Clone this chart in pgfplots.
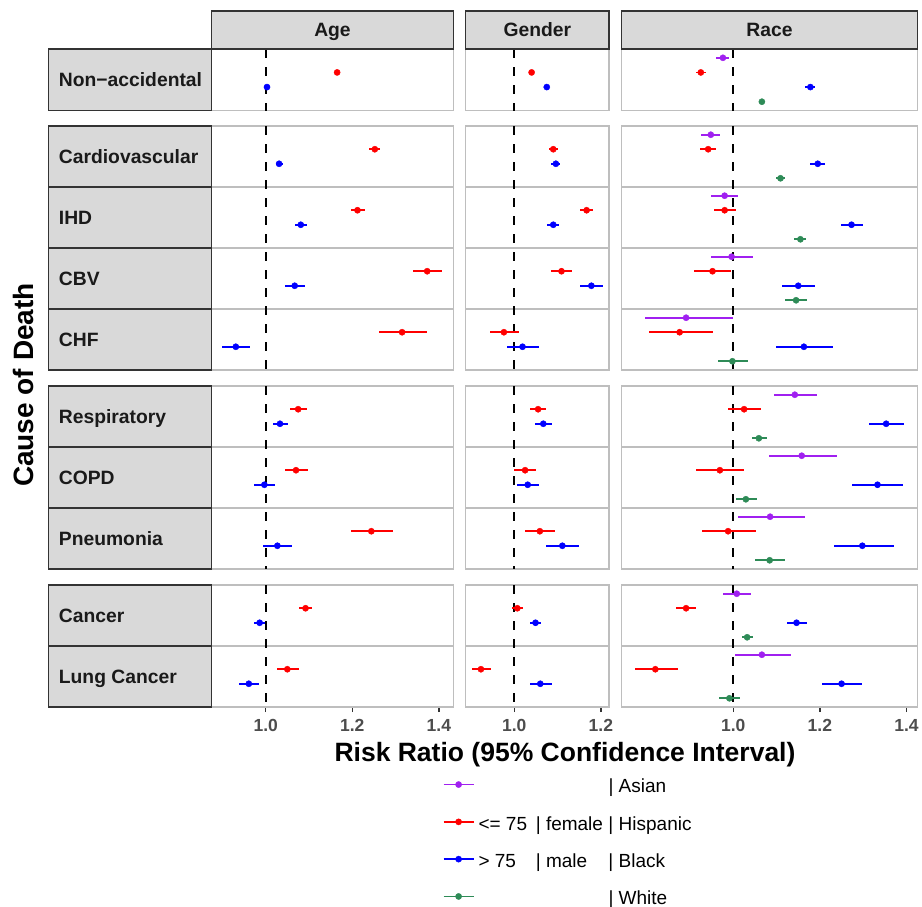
\documentclass[border=0pt]{standalone}
\usepackage{fontspec}
\setmainfont{Liberation Sans}
\usepackage{pgfplots}
\usepackage{pgfplotstable}
\pgfplotsset{compat=1.18}
\definecolor{cpurple}{RGB}{160,32,240}
\definecolor{cred}{RGB}{255,0,0}
\definecolor{cblue}{RGB}{0,0,255}
\definecolor{cgreen}{RGB}{46,139,87}
\definecolor{panelgrey}{RGB}{190,190,190}
\definecolor{stripfill}{RGB}{217,217,217}
\definecolor{stripdraw}{RGB}{51,51,51}
\definecolor{textdark}{RGB}{26,26,26}
\definecolor{tickgrey}{RGB}{77,77,77}

% rows: 1 Non-accidental, 2 Cardiovascular, 3 IHD, 4 CBV, 5 CHF,
% 6 Respiratory, 7 COPD, 8 Pneumonia, 9 Cancer, 10 Lung Cancer
\pgfplotstableread{
row est lo hi
1 1.165 1.162 1.168
2 1.252 1.239 1.265
3 1.212 1.196 1.229
4 1.373 1.341 1.408
5 1.315 1.262 1.372
6 1.075 1.055 1.095
7 1.070 1.044 1.097
8 1.244 1.197 1.294
9 1.092 1.078 1.106
10 1.050 1.026 1.077
}\ageLo
\pgfplotstableread{
row est lo hi
1 1.003 1.001 1.005
2 1.031 1.024 1.041
3 1.081 1.068 1.095
4 1.067 1.045 1.090
5 0.931 0.899 0.963
6 1.033 1.017 1.052
7 0.997 0.974 1.021
8 1.027 0.994 1.061
9 0.986 0.974 0.998
10 0.961 0.938 0.984
}\ageHi
\pgfplotstableread{
row est lo hi
1 1.040 1.038 1.042
2 1.090 1.081 1.100
3 1.167 1.152 1.182
4 1.109 1.085 1.133
5 0.976 0.943 1.011
6 1.055 1.036 1.074
7 1.025 1.000 1.050
8 1.059 1.024 1.094
9 1.007 0.995 1.019
10 0.923 0.902 0.947
}\genF
\pgfplotstableread{
row est lo hi
1 1.075 1.073 1.077
2 1.096 1.085 1.106
3 1.090 1.076 1.104
4 1.178 1.152 1.205
5 1.019 0.983 1.058
6 1.067 1.048 1.086
7 1.031 1.006 1.056
8 1.111 1.074 1.149
9 1.049 1.036 1.062
10 1.060 1.036 1.086
}\genM
\pgfplotstableread{
row est lo hi
1 0.976 0.961 0.990
2 0.948 0.925 0.970
3 0.980 0.949 1.012
4 0.996 0.949 1.045
5 0.891 0.797 0.999
6 1.142 1.093 1.193
7 1.158 1.082 1.240
8 1.085 1.012 1.165
9 1.008 0.977 1.041
10 1.066 1.003 1.134
}\raceAs
\pgfplotstableread{
row est lo hi
1 0.925 0.913 0.936
2 0.942 0.924 0.960
3 0.980 0.955 1.006
4 0.952 0.910 0.995
5 0.876 0.806 0.952
6 1.025 0.988 1.064
7 0.969 0.915 1.025
8 0.988 0.928 1.052
9 0.891 0.868 0.915
10 0.820 0.772 0.872
}\raceHi
\pgfplotstableread{
row est lo hi
1 1.178 1.166 1.188
2 1.195 1.178 1.212
3 1.273 1.248 1.300
4 1.150 1.113 1.189
5 1.163 1.099 1.231
6 1.353 1.313 1.394
7 1.333 1.275 1.392
8 1.298 1.232 1.370
9 1.146 1.125 1.170
10 1.250 1.204 1.297
}\raceBl
\pgfplotstableread{
row est lo hi
1 1.066 1.064 1.068
2 1.109 1.099 1.120
3 1.155 1.140 1.169
4 1.145 1.120 1.170
5 0.998 0.964 1.033
6 1.059 1.043 1.078
7 1.029 1.006 1.054
8 1.084 1.050 1.120
9 1.032 1.020 1.045
10 0.991 0.968 1.015
}\raceWh

\pgfplotsset{
  panel/.style={scale only axis, anchor=north west, y dir=reverse,
    axis line style={draw=panelgrey, line width=1.3pt},
    xtick=\empty, ytick=\empty},
  agecol/.style={xmin=0.8753, xmax=1.4333, width=241.6pt},
  gencol/.style={xmin=0.8878, xmax=1.2187, width=143.3pt},
  racecol/.style={xmin=0.7423, xmax=1.4249, width=295.6pt},
  seps/.style={extra y ticks={#1}, extra y tick labels={},
    extra y tick style={grid=major, major grid style={draw=panelgrey, line width=1.3pt}, major tick length=0pt}},
  gA/.style={ymin=0.5, ymax=1.5, height=61.5pt, restrict y to domain=0.5:1.5},
  gB/.style={ymin=1.5, ymax=5.5, height=244pt, restrict y to domain=1.5:5.5, seps={2.5,3.5,4.5}},
  gC/.style={ymin=5.5, ymax=8.5, height=183pt, restrict y to domain=5.5:8.5, seps={6.5,7.5}},
  gD/.style={ymin=8.5, ymax=10.5, height=122pt, restrict y to domain=8.5:10.5, seps={9.5}},
  bottom/.style={xtick={#1}, xtick pos=lower, tick align=outside, major tick length=5pt,
    x tick style={draw=stripdraw, line width=1.3pt},
    xticklabel shift=7pt,
    xticklabel={\pgfmathprintnumber[fixed,fixed zerofill,precision=1,assume math mode=true]{\tick}},
    xticklabel style={font=\bfseries\fontsize{17.5}{20}\selectfont, text=tickgrey, inner sep=0pt, text height=12.6pt, text depth=0pt}},
  ci/.style={only marks, mark=*, mark size=3.1pt, mark options={solid},
    error bars/.cd, x dir=both, x explicit, error mark=none,
    error bar style={line width=1.8pt, solid}},
}
\newcommand{\vl}[2]{\addplot[black, line width=2.2pt, dash pattern=on 9pt off 9pt, forget plot] coordinates {(1,#1) (1,#2)};}
\newcommand{\pl}[3]{\addplot[#1, ci] table[x=est, y expr=\thisrow{row}+(#2), x error plus expr=\thisrow{hi}-\thisrow{est}, x error minus expr=\thisrow{est}-\thisrow{lo}]{#3};}
\newcommand{\ageplots}[2]{\vl{#1}{#2}\pl{cred}{-0.119}{\ageLo}\pl{cblue}{0.119}{\ageHi}}
\newcommand{\genplots}[2]{\vl{#1}{#2}\pl{cred}{-0.119}{\genF}\pl{cblue}{0.119}{\genM}}
\newcommand{\raceplots}[2]{\vl{#1}{#2}\pl{cpurple}{-0.357}{\raceAs}\pl{cred}{-0.119}{\raceHi}\pl{cblue}{0.119}{\raceBl}\pl{cgreen}{0.357}{\raceWh}}

\begin{document}
\begin{tikzpicture}[x=1pt,y=1pt]
\useasboundingbox (0,0) rectangle (922,-907);

% ---- Age column
\begin{axis}[panel, agecol, gA, at={(211.7pt,-49pt)}]\ageplots{0.5}{1.5}\end{axis}
\begin{axis}[panel, agecol, gB, at={(211.7pt,-126pt)}]\ageplots{1.5}{5.5}\end{axis}
\begin{axis}[panel, agecol, gC, at={(211.7pt,-386pt)}]\ageplots{5.5}{8.5}\end{axis}
\begin{axis}[panel, agecol, gD, bottom={1,1.2,1.4}, at={(211.7pt,-585pt)}]\ageplots{8.5}{10.5}\end{axis}
% ---- Gender column
\begin{axis}[panel, gencol, gA, at={(465.7pt,-49pt)}]\genplots{0.5}{1.5}\end{axis}
\begin{axis}[panel, gencol, gB, at={(465.7pt,-126pt)}]\genplots{1.5}{5.5}\end{axis}
\begin{axis}[panel, gencol, gC, at={(465.7pt,-386pt)}]\genplots{5.5}{8.5}\end{axis}
\begin{axis}[panel, gencol, gD, bottom={1,1.2}, at={(465.7pt,-585pt)}]\genplots{8.5}{10.5}\end{axis}
% ---- Race column
\begin{axis}[panel, racecol, gA, at={(621.7pt,-49pt)}]\raceplots{0.5}{1.5}\end{axis}
\begin{axis}[panel, racecol, gB, at={(621.7pt,-126pt)}]\raceplots{1.5}{5.5}\end{axis}
\begin{axis}[panel, racecol, gC, at={(621.7pt,-386pt)}]\raceplots{5.5}{8.5}\end{axis}
\begin{axis}[panel, racecol, gD, bottom={1,1.2,1.4}, at={(621.7pt,-585pt)}]\raceplots{8.5}{10.5}\end{axis}

% ---- legend
\begin{axis}[at={(442.7pt,-779pt)}, anchor=north west, hide axis, scale only axis,
  width=1pt, height=1pt, xmin=0, xmax=1, ymin=0, ymax=1,
  legend cell align=left,
  legend style={at={(0,1)}, anchor=north west, draw=none, fill=none, inner sep=0pt, outer sep=0pt,
    row sep=19.6pt, column sep=4pt, font=\fontsize{19}{22}\selectfont,
    nodes={inner sep=0pt, text height=13.7pt, text depth=4pt}},
  legend image code/.code={\draw[#1, line width=1.8pt] (0pt,3.3pt) -- (30pt,3.3pt); \fill[#1] (15pt,3.3pt) circle (3.1pt);}]
\addlegendimage{cpurple}
\addlegendentry{\makebox[57.3pt][l]{}\makebox[72.7pt][l]{}| Asian}
\addlegendimage{cred}
\addlegendentry{\makebox[57.3pt][l]{<= 75}\makebox[72.7pt][l]{| female}| Hispanic}
\addlegendimage{cblue}
\addlegendentry{\makebox[57.3pt][l]{> 75}\makebox[72.7pt][l]{| male}| Black}
\addlegendimage{cgreen}
\addlegendentry{\makebox[57.3pt][l]{}\makebox[72.7pt][l]{}| White}
\end{axis}

% ---- strips
\tikzset{sbox/.style={fill=stripfill, draw=stripdraw, line width=1.5pt},
  stxt/.style={font=\bfseries\fontsize{19.3}{22}\selectfont, text=textdark, inner sep=0pt}}
\draw[sbox] (211.7,-11) rectangle (453.3,-49);
\draw[sbox] (465.7,-11) rectangle (609,-49);
\draw[sbox] (621.7,-11) rectangle (917.3,-49);
\node[stxt, anchor=base] at (332.5,-36.9) {Age};
\node[stxt, anchor=base] at (537.35,-36.9) {Gender};
\node[stxt, anchor=base] at (769.5,-36.9) {Race};

\draw[sbox] (48.7,-49) rectangle (211.7,-110.5);
\draw[sbox] (48.7,-126) rectangle (211.7,-187);
\draw[sbox] (48.7,-187) rectangle (211.7,-248);
\draw[sbox] (48.7,-248) rectangle (211.7,-309);
\draw[sbox] (48.7,-309) rectangle (211.7,-370);
\draw[sbox] (48.7,-386) rectangle (211.7,-447);
\draw[sbox] (48.7,-447) rectangle (211.7,-508);
\draw[sbox] (48.7,-508) rectangle (211.7,-569);
\draw[sbox] (48.7,-585) rectangle (211.7,-646);
\draw[sbox] (48.7,-646) rectangle (211.7,-707);
\node[stxt, anchor=base west] at (58.7,-86.65) {Non−accidental};
\node[stxt, anchor=base west] at (58.7,-163.4) {Cardiovascular};
\node[stxt, anchor=base west] at (58.7,-224.4) {IHD};
\node[stxt, anchor=base west] at (58.7,-285.4) {CBV};
\node[stxt, anchor=base west] at (58.7,-346.4) {CHF};
\node[stxt, anchor=base west] at (58.7,-423.4) {Respiratory};
\node[stxt, anchor=base west] at (58.7,-484.4) {COPD};
\node[stxt, anchor=base west] at (58.7,-545.4) {Pneumonia};
\node[stxt, anchor=base west] at (58.7,-622.4) {Cancer};
\node[stxt, anchor=base west] at (58.7,-683.4) {Lung Cancer};

% ---- axis titles
\node[font=\bfseries\fontsize{26.5}{30}\selectfont, anchor=base, inner sep=0pt] at (565,-761.7) {Risk Ratio (95\% Confidence Interval)};
\node[font=\bfseries\fontsize{28}{32}\selectfont, anchor=base, rotate=90, inner sep=0pt] at (33.3,-385) {Cause of Death};
\end{tikzpicture}
\end{document}
